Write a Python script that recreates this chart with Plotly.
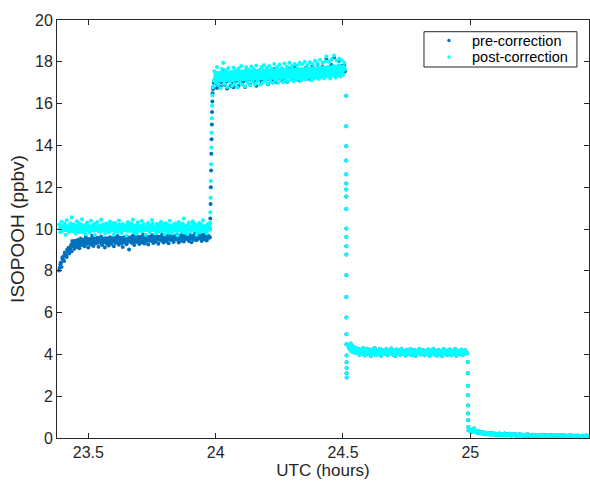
import numpy as np
import plotly.graph_objects as go

# ---------------- data ----------------
# regular sampling segments: start time (h), sampling step (h); each segment
# has two interleaved sample lists (second list offset by half a step)
seg_a_start, seg_b_start, seg_c_start, seg_d_start = 23.385, 23.99, 24.52, 25.0
sample_step = 0.005

post_a = [10.21, 9.84, 10.35, 9.97, 10.12, 9.73, 10.42, 10.05, 9.88, 10.28,
          10.56, 9.91, 10.18, 9.79, 10.37, 10.02, 9.86, 10.24, 10.47, 9.95,
          10.09, 9.76, 10.31, 10.14, 9.82, 10.39, 9.98, 10.22, 9.71, 10.07,
          10.33, 9.89, 10.16, 10.44, 9.93, 10.03, 9.78, 10.26, 10.11, 9.85,
          10.36, 9.96, 10.19, 9.74, 10.29, 10.06, 9.87, 10.41, 10.01, 9.81,
          10.23, 9.94, 10.13, 9.69, 10.34, 10.08, 9.90, 10.27, 10.46, 9.83,
          10.15, 9.77, 10.32, 10.04, 9.92, 10.38, 9.99, 10.20, 9.72, 10.10,
          10.30, 9.86, 10.17, 10.43, 9.95, 10.02, 9.80, 10.25, 10.12, 9.88,
          10.35, 9.97, 10.18, 9.75, 10.28, 10.05, 9.84, 10.40, 10.00, 9.79,
          10.22, 9.93, 10.14, 9.70, 10.33, 10.07, 9.89, 10.26, 10.50, 9.82,
          10.16, 9.76, 10.31, 10.03, 9.91, 10.37, 9.98, 10.21, 9.73, 10.09,
          10.29, 9.85, 10.15, 10.42, 9.94, 10.04, 9.78, 10.24, 10.11]
post_a2 = [10.02, 10.15, 9.91, 10.08, 10.24, 9.95, 10.11, 9.87, 10.19, 10.04,
           9.98, 10.22, 10.06, 9.89, 10.13, 10.27, 9.93, 10.09, 9.84, 10.17,
           10.01, 10.21, 9.96, 10.12, 9.88, 10.05, 10.18, 9.92, 10.26, 10.03,
           9.97, 10.14, 9.86, 10.10, 10.23, 9.99, 10.16, 9.90, 10.07, 10.20,
           9.94, 10.11, 10.28, 9.88, 10.04, 10.15, 9.96, 10.22, 9.85, 10.09,
           10.13, 9.98, 10.19, 9.91, 10.06, 10.25, 9.95, 10.10, 9.87, 10.17,
           10.02, 10.20, 9.93, 10.08, 10.14, 9.89, 10.23, 10.00, 9.96, 10.12,
           10.18, 9.90, 10.05, 10.27, 9.97, 10.11, 9.86, 10.16, 10.03, 10.21,
           9.92, 10.07, 10.24, 9.95, 10.13, 9.88, 10.19, 10.01, 10.09, 9.94,
           10.15, 10.26, 9.90, 10.06, 10.20, 9.97, 10.12, 9.85, 10.17, 10.04,
           9.99, 10.22, 10.08, 9.92, 10.14, 10.28, 9.96, 10.10, 9.87, 10.18,
           10.02, 10.23, 9.94, 10.11, 9.89, 10.16, 10.05, 10.20, 9.98]

pre_a = [8.02, 8.31, 8.18, 8.55, 8.47, 8.78, 8.66, 8.95, 8.83, 9.12,
         8.94, 9.28, 9.05, 9.36, 9.14, 9.47, 9.08, 9.55, 9.22, 9.41,
         9.17, 9.62, 9.31, 9.12, 9.50, 9.26, 9.68, 9.19, 9.44, 9.33,
         9.58, 9.15, 9.39, 9.64, 9.24, 9.47, 9.11, 9.53, 9.35, 9.21,
         9.60, 9.29, 9.45, 9.18, 9.56, 9.37, 9.66, 9.25, 9.49, 9.32,
         9.14, 9.61, 9.40, 9.27, 9.54, 9.02, 9.46, 9.34, 9.69, 9.23,
         9.51, 9.38, 9.63, 9.28, 9.47, 9.36, 9.72, 9.31, 9.55, 9.42,
         9.26, 9.60, 9.44, 9.70, 9.33, 9.52, 9.39, 9.65, 9.29, 9.57,
         9.45, 9.74, 9.36, 9.58, 9.41, 9.68, 9.32, 9.55, 9.47, 9.76,
         9.38, 9.62, 9.50, 9.71, 9.35, 9.59, 9.44, 9.78, 9.40, 9.63,
         9.52, 9.74, 9.43, 9.66, 9.37, 9.60, 9.49, 9.80, 9.46, 9.64,
         9.55, 9.77, 9.42, 9.69, 9.50, 9.73, 9.45, 9.62, 9.58]
pre_a2 = [8.15, 8.40, 8.62, 8.70, 8.88, 8.74, 9.02, 9.10, 9.00, 9.24,
          9.18, 9.33, 9.25, 9.40, 9.30, 9.20, 9.38, 9.28, 9.46, 9.35,
          9.42, 9.30, 9.48, 9.38, 9.27, 9.45, 9.36, 9.52, 9.31, 9.40,
          9.34, 9.50, 9.43, 9.28, 9.44, 9.37, 9.55, 9.30, 9.46, 9.41,
          9.35, 9.52, 9.40, 9.47, 9.33, 9.50, 9.42, 9.57, 9.38, 9.45,
          9.48, 9.36, 9.53, 9.44, 9.39, 9.56, 9.43, 9.50, 9.37, 9.54,
          9.46, 9.58, 9.41, 9.52, 9.60, 9.45, 9.53, 9.40, 9.62, 9.49,
          9.55, 9.44, 9.61, 9.50, 9.57, 9.46, 9.64, 9.52, 9.58, 9.48,
          9.62, 9.53, 9.67, 9.49, 9.60, 9.55, 9.64, 9.51, 9.68, 9.57,
          9.63, 9.54, 9.70, 9.58, 9.52, 9.66, 9.60, 9.56, 9.69, 9.59,
          9.65, 9.57, 9.72, 9.61, 9.55, 9.68, 9.63, 9.59, 9.71, 9.60,
          9.66, 9.62, 9.74, 9.58, 9.67, 9.63, 9.70, 9.65, 9.60]

rise_t = [23.978, 23.979, 23.980, 23.981, 23.982, 23.983, 23.984, 23.985, 23.986, 23.987, 23.988]
rise_post = [10.3, 10.8, 11.5, 12.3, 13.1, 13.9, 14.6, 15.3, 15.9, 16.4, 16.8]
rise_pre = [10.0, 10.5, 11.2, 12.0, 12.8, 13.6, 14.3, 15.0, 15.6, 16.1, 16.5]

post_b = [16.80, 17.55, 17.00, 17.75, 16.90, 17.45, 16.75, 17.65, 17.95, 16.95,
          17.60, 16.80, 17.70, 17.05, 17.50, 16.85, 17.72, 16.95, 17.60, 16.78,
          17.68, 17.02, 17.80, 16.90, 17.55, 16.83, 17.74, 17.00, 17.62, 16.88,
          17.78, 17.05, 17.66, 16.92, 17.82, 17.08, 17.58, 16.90, 17.75, 17.00,
          17.85, 17.10, 17.70, 16.95, 17.80, 17.05, 17.65, 16.98, 17.90, 17.12,
          17.74, 17.00, 17.86, 17.15, 17.70, 17.02, 17.92, 17.10, 17.78, 17.05,
          17.95, 17.18, 17.80, 17.08, 17.90, 17.12, 17.84, 17.20, 17.96, 17.10,
          17.88, 17.22, 18.00, 17.15, 17.85, 17.25, 17.98, 17.12, 17.90, 17.20,
          18.05, 17.25, 17.92, 17.18, 18.10, 17.28, 17.95, 17.22, 18.02, 18.25,
          17.30, 18.00, 17.20, 18.12, 17.35, 18.30, 17.25, 18.05, 17.38, 18.15,
          17.30, 18.08, 17.40, 17.95]
post_b2 = [17.10, 17.22, 17.05, 17.30, 17.18, 17.40, 17.13, 17.27, 17.20, 17.35,
           17.16, 17.29, 17.42, 17.21, 17.33, 17.12, 17.38, 17.25, 17.30, 17.19,
           17.44, 17.26, 17.35, 17.17, 17.31, 17.46, 17.23, 17.37, 17.28, 17.41,
           17.20, 17.34, 17.47, 17.27, 17.39, 17.24, 17.43, 17.32, 17.50, 17.26,
           17.40, 17.33, 17.48, 17.29, 17.44, 17.36, 17.52, 17.30, 17.42, 17.38,
           17.49, 17.34, 17.45, 17.40, 17.55, 17.32, 17.47, 17.43, 17.58, 17.37,
           17.50, 17.44, 17.56, 17.39, 17.52, 17.47, 17.61, 17.41, 17.54, 17.49,
           17.63, 17.45, 17.57, 17.51, 17.66, 17.48, 17.60, 17.53, 17.68, 17.50,
           17.62, 17.56, 17.70, 17.52, 17.65, 17.58, 17.74, 17.55, 17.67, 17.60,
           17.76, 17.57, 17.69, 17.63, 17.80, 17.59, 17.72, 17.66, 17.84, 17.62,
           17.75, 17.68, 17.78, 17.64]

pre_b = [16.70, 17.02, 17.21, 16.75, 17.14, 17.40, 16.82, 17.20, 17.60, 16.90,
         17.33, 16.72, 17.16, 17.45, 16.86, 17.25, 16.78, 17.37, 17.08, 17.50,
         16.84, 17.22, 17.45, 17.02, 17.30, 16.80, 17.55, 17.12, 17.40, 16.90,
         17.27, 17.50, 17.08, 17.36, 16.86, 17.45, 17.18, 17.60, 17.04, 17.30,
         17.50, 17.12, 17.38, 16.92, 17.56, 17.22, 17.44, 17.07, 17.66, 17.28,
         17.02, 17.50, 17.21, 17.42, 17.10, 17.62, 17.31, 17.48, 17.05, 17.38,
         17.66, 17.19, 17.45, 17.26, 17.74, 17.15, 17.56, 17.35, 17.10, 17.60,
         17.32, 17.50, 17.20, 17.72, 17.40, 17.57, 17.17, 17.48, 17.82, 17.29,
         17.55, 17.38, 17.90, 17.24, 17.66, 17.46, 17.77, 17.33, 17.60, 18.15,
         17.43, 17.70, 17.31, 17.85, 17.52, 18.20, 17.40, 17.75, 17.57, 18.05,
         17.48, 17.80, 17.50, 17.82]
pre_b2 = [17.00, 17.12, 16.95, 17.20, 17.08, 17.30, 17.03, 17.17, 17.10, 17.25,
          17.06, 17.19, 17.32, 17.11, 17.23, 17.02, 17.28, 17.15, 17.20, 17.09,
          17.34, 17.16, 17.25, 17.07, 17.21, 17.36, 17.13, 17.27, 17.18, 17.31,
          17.10, 17.24, 17.37, 17.17, 17.29, 17.14, 17.33, 17.22, 17.40, 17.16,
          17.30, 17.23, 17.38, 17.19, 17.34, 17.26, 17.42, 17.20, 17.32, 17.28,
          17.39, 17.24, 17.35, 17.30, 17.45, 17.22, 17.37, 17.33, 17.48, 17.27,
          17.40, 17.34, 17.46, 17.29, 17.42, 17.37, 17.51, 17.31, 17.44, 17.39,
          17.53, 17.35, 17.47, 17.41, 17.56, 17.38, 17.50, 17.43, 17.58, 17.40,
          17.52, 17.46, 17.60, 17.42, 17.55, 17.48, 17.64, 17.45, 17.57, 17.50,
          17.66, 17.47, 17.59, 17.53, 17.70, 17.49, 17.62, 17.56, 17.74, 17.52,
          17.65, 17.58, 17.68, 17.54]

decay_t = [24.5126, 24.5127, 24.5128, 24.5128, 24.5129, 24.5130, 24.5130, 24.5131,
           24.5131, 24.5132, 24.5132, 24.5133, 24.5133, 24.5134, 24.5134, 24.5135,
           24.5135, 24.5136, 24.5140, 24.5141, 24.5142, 24.5143, 24.5144]
decay_v = [16.37, 14.92, 13.96, 13.28, 12.62, 12.18, 11.89, 11.56, 10.96, 10.02,
           9.62, 9.18, 8.78, 7.79, 6.75, 5.76, 4.96, 4.49, 3.95, 3.62, 3.35, 3.10, 2.90]

level_c = [4.45, 4.28, 4.52, 4.20, 4.38, 4.12, 4.31, 4.05, 4.26, 3.98,
           4.22, 4.08, 4.30, 3.95, 4.17, 4.27, 4.02, 4.19, 3.93, 4.24,
           4.10, 4.29, 3.97, 4.15, 4.06, 4.26, 3.94, 4.20, 4.11, 4.03,
           4.25, 3.96, 4.18, 4.09, 4.28, 4.00, 4.14, 3.92, 4.23, 4.07,
           4.19, 3.98, 4.27, 4.05, 4.16, 3.95, 4.22, 4.10, 4.01, 4.25,
           3.97, 4.13, 4.21, 3.93, 4.17, 4.06, 4.26, 3.99, 4.12, 4.20,
           3.96, 4.15, 4.04, 4.24, 3.94, 4.18, 4.08, 4.27, 4.00, 4.14,
           3.95, 4.21, 4.07, 4.16, 3.92, 4.25, 4.03, 4.19, 3.98, 4.11,
           4.23, 3.96, 4.15, 4.06, 4.26, 3.94, 4.18, 4.09, 4.01, 4.22,
           3.97, 4.14, 4.20, 4.04]
level_c2 = [4.38, 4.40, 4.33, 4.25, 4.30, 4.18, 4.22, 4.14, 4.19, 4.10,
            4.15, 4.04, 4.12, 4.20, 4.07, 4.13, 4.09, 4.17, 4.03, 4.12,
            4.18, 4.06, 4.14, 4.01, 4.10, 4.19, 4.05, 4.13, 4.08, 4.16,
            4.02, 4.11, 4.20, 4.06, 4.14, 4.09, 4.17, 4.03, 4.12, 4.07,
            4.15, 4.04, 4.18, 4.09, 4.13, 4.02, 4.16, 4.08, 4.11, 4.05,
            4.19, 4.07, 4.14, 4.03, 4.10, 4.17, 4.05, 4.13, 4.08, 4.16,
            4.02, 4.11, 4.18, 4.06, 4.14, 4.09, 4.04, 4.15, 4.07, 4.12,
            4.19, 4.03, 4.10, 4.16, 4.06, 4.13, 4.08, 4.01, 4.14, 4.09,
            4.17, 4.04, 4.12, 4.07, 4.15, 4.02, 4.11, 4.18, 4.05, 4.13,
            4.08, 4.16, 4.10, 4.06]

drop_t = [24.9900, 24.9902, 24.9904, 24.9906, 24.9909, 24.9912, 24.9916, 24.9921, 24.9930]
drop_v = [3.64, 3.10, 2.50, 2.04, 1.56, 1.17, 0.85, 0.53, 0.37]

level_d = [0.34, 0.29, 0.38, 0.45, 0.31, 0.26, 0.33, 0.24, 0.28, 0.21,
           0.27, 0.20, 0.25, 0.18, 0.24, 0.21, 0.16, 0.23, 0.19, 0.22,
           0.15, 0.20, 0.17, 0.22, 0.14, 0.19, 0.16, 0.21, 0.13, 0.18,
           0.15, 0.20, 0.12, 0.17, 0.14, 0.19, 0.11, 0.16, 0.13, 0.18,
           0.12, 0.16, 0.10, 0.15, 0.13, 0.18, 0.11, 0.14, 0.09, 0.16,
           0.12, 0.15, 0.10, 0.14, 0.08, 0.13, 0.11, 0.16, 0.09, 0.12,
           0.14, 0.08, 0.12, 0.10, 0.15, 0.07, 0.11, 0.13, 0.09, 0.12,
           0.08, 0.13, 0.10, 0.14, 0.07, 0.11, 0.09, 0.12, 0.08, 0.13,
           0.10, 0.06, 0.11, 0.09, 0.12, 0.07, 0.10, 0.08, 0.11, 0.06,
           0.09, 0.12, 0.07, 0.10]
level_d2 = [0.40, 0.33, 0.42, 0.36, 0.28, 0.30, 0.25, 0.29, 0.23, 0.26,
            0.22, 0.24, 0.21, 0.20, 0.19, 0.22, 0.18, 0.20, 0.17, 0.19,
            0.18, 0.16, 0.19, 0.15, 0.17, 0.16, 0.18, 0.14, 0.16, 0.15,
            0.17, 0.14, 0.15, 0.13, 0.16, 0.14, 0.13, 0.15, 0.12, 0.14,
            0.13, 0.12, 0.14, 0.11, 0.13, 0.12, 0.14, 0.11, 0.12, 0.13,
            0.10, 0.12, 0.11, 0.13, 0.10, 0.12, 0.09, 0.11, 0.12, 0.10,
            0.11, 0.09, 0.12, 0.10, 0.11, 0.09, 0.10, 0.12, 0.08, 0.10,
            0.11, 0.09, 0.10, 0.08, 0.11, 0.09, 0.10, 0.07, 0.09, 0.10,
            0.08, 0.09, 0.07, 0.10, 0.08, 0.09, 0.07, 0.08, 0.10, 0.07,
            0.09, 0.08, 0.07, 0.09]

# dense-core envelopes of the point clouds (where the dots merge into a solid band)
core_pre_a_t = [23.43, 23.50, 23.70, 23.975]
core_pre_a_lo = [9.15, 9.28, 9.38, 9.50]
core_pre_a_hi = [9.50, 9.60, 9.70, 9.75]
core_post_a_t = [23.386, 23.50, 23.70, 23.978]
core_post_a_lo = [9.86, 9.86, 9.87, 9.87]
core_post_a_hi = [10.22, 10.20, 10.20, 10.20]
core_b_t = [23.992, 24.10, 24.30, 24.505]
core_post_b_lo = [17.00, 17.08, 17.18, 17.30]
core_post_b_hi = [17.55, 17.62, 17.72, 17.85]
core_c_t = [24.522, 24.54, 24.985]
core_c_lo = [4.12, 4.00, 4.00]
core_c_hi = [4.40, 4.22, 4.20]

x_tick_vals = [23.5, 24, 24.5, 25]
x_tick_text = ["23.5", "24", "24.5", "25"]
series_names = ["pre-correction", "post-correction"]
series_colors = ["#0072BD", "#00FFFF"]

# ---------------- assemble ----------------
def grid(start, n, offset=0.0):
    return list(start + sample_step * (np.arange(n) + offset))

def seg(start, v1, v2):
    return grid(start, len(v1)) + grid(start, len(v2), 0.5), v1 + v2

ta_post, ya_post = seg(seg_a_start, post_a, post_a2)
ta_pre, ya_pre = seg(seg_a_start, pre_a, pre_a2)
tb_post, yb_post = seg(seg_b_start, post_b, post_b2)
tb_pre, yb_pre = seg(seg_b_start, pre_b, pre_b2)
tc, yc = seg(seg_c_start, level_c, level_c2)
td, yd = seg(seg_d_start, level_d, level_d2)

t_pre = ta_pre + rise_t + tb_pre + decay_t + tc + drop_t + td
y_pre = ya_pre + rise_pre + yb_pre + decay_v + yc + drop_v + yd
t_post = ta_post + rise_t + tb_post + decay_t + tc + drop_t + td
y_post = ya_post + rise_post + yb_post + decay_v + yc + drop_v + yd

def band(t, lo, hi, col):
    return go.Scatter(x=list(t) + list(t)[::-1], y=list(hi) + list(lo)[::-1],
                      mode="none", fill="toself", fillcolor=col,
                      hoverinfo="skip", showlegend=False)

axis_col = "#262626"
font_fam = "Liberation Sans, Arial, Helvetica, sans-serif"

fig = go.Figure()
fig.add_trace(band(core_pre_a_t, core_pre_a_lo, core_pre_a_hi, series_colors[0]))
fig.add_trace(go.Scatter(x=t_pre, y=y_pre, mode="markers", name=series_names[0],
                         marker=dict(color=series_colors[0], size=4, line=dict(width=0))))
fig.add_trace(band(core_post_a_t, core_post_a_lo, core_post_a_hi, series_colors[1]))
fig.add_trace(band(core_b_t, core_post_b_lo, core_post_b_hi, series_colors[1]))
fig.add_trace(band(core_c_t, core_c_lo, core_c_hi, series_colors[1]))
fig.add_trace(go.Scatter(x=t_post, y=y_post, mode="markers", name=series_names[1],
                         marker=dict(color=series_colors[1], size=4, line=dict(width=0))))

axis_common = dict(showgrid=False, zeroline=False, showline=True, linecolor=axis_col,
                   linewidth=1, mirror="ticks", ticks="inside", ticklen=5,
                   tickcolor=axis_col, tickwidth=1,
                   tickfont=dict(family=font_fam, size=16, color=axis_col))

# MATLAB-style boxed legend (compact rows)
L_x0, L_x1, L_y0, L_y1 = 0.6898, 0.9774, 0.8875, 0.972
L_mark_x, L_text_x = 0.7368, 0.7782
L_rows = [0.9509, 0.9114]
shapes = [dict(type="rect", xref="paper", yref="paper", x0=L_x0, x1=L_x1, y0=L_y0, y1=L_y1,
               line=dict(color=axis_col, width=1), fillcolor="white", layer="above")]
annotations = []
for name, col, ry in zip(series_names, series_colors, L_rows):
    shapes.append(dict(type="circle", xref="paper", yref="paper", xsizemode="pixel",
                       ysizemode="pixel", xanchor=L_mark_x, yanchor=ry,
                       x0=-1.7, x1=1.7, y0=-1.7, y1=1.7,
                       line=dict(width=0), fillcolor=col, layer="above"))
    annotations.append(dict(text=name, xref="paper", yref="paper", x=L_text_x, y=ry,
                            xanchor="left", yanchor="middle", showarrow=False,
                            borderpad=0,
                            font=dict(family=font_fam, size=14.5, color="black")))

fig.update_layout(
    width=590, height=484,
    margin=dict(l=57, r=1, t=20, b=46),
    paper_bgcolor="white", plot_bgcolor="white",
    font=dict(family=font_fam, color=axis_col),
    xaxis=dict(range=[23.377, 25.466], tickvals=x_tick_vals, ticktext=x_tick_text,
               title=dict(text="UTC (hours)", font=dict(size=17, color=axis_col), standoff=0),
               **axis_common),
    yaxis=dict(range=[0, 20], dtick=2,
               title=dict(text="ISOPOOH (ppbv)", font=dict(size=19, color=axis_col), standoff=5),
               **axis_common),
    shapes=shapes,
    annotations=annotations,
    showlegend=False,
)

fig.write_html("out.html", config={"displayModeBar": False},
               post_script="document.body.style.margin='0';")
